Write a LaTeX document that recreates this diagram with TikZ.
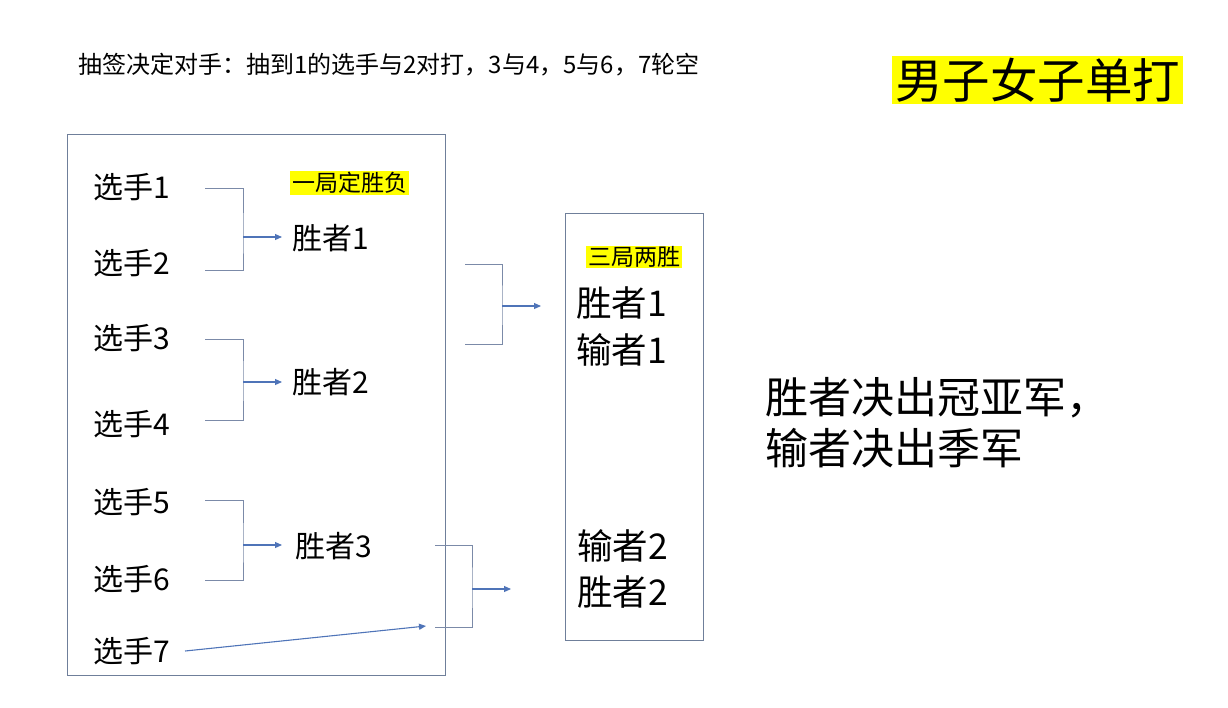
\documentclass[tikz,border=0pt]{standalone}
\usepackage{fontspec}
\setmainfont{Noto Sans CJK SC}
\usetikzlibrary{arrows.meta}
\definecolor{boxc}{HTML}{6F7F9A}
\definecolor{brkc}{HTML}{7B8AA8}
\definecolor{arrc}{HTML}{4F74B8}
\definecolor{hl}{HTML}{FFFF00}
\tikzset{
  pl/.style={anchor=west,inner sep=0pt,font=\fontsize{30}{34}\selectfont},
  big/.style={anchor=west,inner sep=0pt,font=\fontsize{35.5}{40}\selectfont},
  note/.style={anchor=west,inner sep=0pt,font=\fontsize{43}{48}\selectfont},
  hlbox/.style={anchor=west,fill=hl,inner xsep=2pt,inner ysep=1pt,font=\fontsize{23}{26}\selectfont},
  frame/.style={draw=boxc,line width=1pt},
  brk/.style={draw=brkc,line width=1pt},
  arr/.style={draw=arrc,line width=1.1pt,-{Triangle[length=7pt,width=6pt]}},
}
\begin{document}
\begin{tikzpicture}[x=1pt,y=-1pt]
\useasboundingbox (0,0) rectangle (1228,707);
% header
\node[anchor=west,inner sep=0pt,font=\fontsize{24}{27}\selectfont] (hdr) at (78,65) {抽签决定对手：抽到1的选手与2对打，3与4，5与6，7轮空};
\node[anchor=west,fill=hl,inner xsep=3pt,inner ysep=2pt,font=\fontsize{47.5}{52}\selectfont] (ttl) at (892,80) {男子女子单打};
% frames
\draw[frame] (67,134) rectangle (445,675);
\draw[frame] (565,213) rectangle (703,640);
% players
\node[pl] (p1) at (93,187) {选手1};
\node[pl] (p2) at (93,263) {选手2};
\node[pl] (p3) at (93,338) {选手3};
\node[pl] (p4) at (93,424) {选手4};
\node[pl] (p5) at (93,502) {选手5};
\node[pl] (p6) at (93,579) {选手6};
\node[pl] (p7) at (93,651) {选手7};
% winners round 1
\node[pl] (w1) at (292,238) {胜者1};
\node[pl] (w2) at (292,382) {胜者2};
\node[pl] (w3) at (295,546) {胜者3};
\node[hlbox] (one) at (290,183) {一局定胜负};
% right box
\node[hlbox] (three) at (586,257) {三局两胜};
\node[big] (rw1) at (576,303) {胜者1};
\node[big] (rl1) at (576,350) {输者1};
\node[big] (rl2) at (577,546) {输者2};
\node[big] (rw2) at (577,592) {胜者2};
% note
\node[note] (n1) at (765,398) {胜者决出冠亚军，};
\node[note] (n2) at (765,448) {输者决出季军};
% brackets round 1
\coordinate (a1) at (205,188); \coordinate (a2) at (205,270); \coordinate (j1) at (243,237);
\draw[brk] (a1) -| (j1) |- (a2);
\draw[arr] (j1) -- (282,237);
\coordinate (b1) at (205,339); \coordinate (b2) at (205,420); \coordinate (j2) at (243,382);
\draw[brk] (b1) -| (j2) |- (b2);
\draw[arr] (j2) -- (282,382);
\coordinate (c1) at (205,500); \coordinate (c2) at (205,580); \coordinate (j3) at (243,545);
\draw[brk] (c1) -| (j3) |- (c2);
\draw[arr] (j3) -- (282,545);
% round 2 brackets
\coordinate (d1) at (465,264); \coordinate (d2) at (465,344); \coordinate (j4) at (502,306);
\draw[brk] (d1) -| (j4) |- (d2);
\draw[arr] (j4) -- (541,306);
\coordinate (e1) at (435,545); \coordinate (e2) at (435,627); \coordinate (j5) at (472,589);
\draw[brk] (e1) -| (j5) |- (e2);
\draw[arr] (j5) -- (511,589);
\coordinate (s7) at (426,626);
\draw[arr] (p7.east) ++(15,0) -- (s7);
\end{tikzpicture}
\end{document}
